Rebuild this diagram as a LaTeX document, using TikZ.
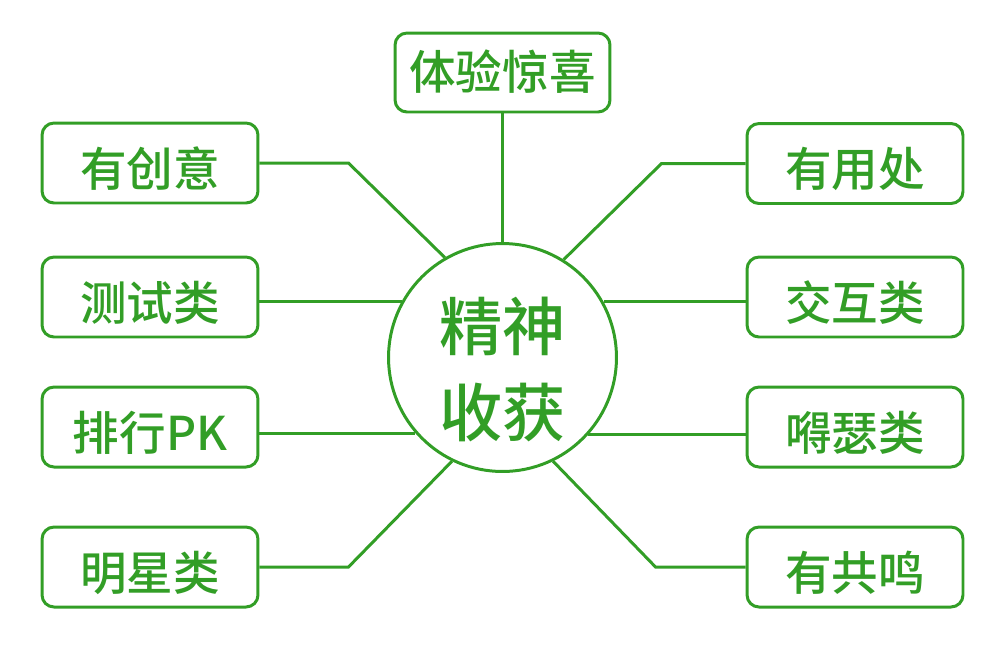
\documentclass[tikz,border=0pt]{standalone}
\usepackage{fontspec}
\newfontfamily\cjk{Noto Sans CJK SC}[BoldFont={* Medium}]
\definecolor{leafgreen}{RGB}{50,158,38}

\begin{document}
\begin{tikzpicture} [x=0.02cm, y=-0.02cm,
 box/.style = {shape=rectangle, rounded corners=0.24cm, draw=leafgreen, line width=1.7pt,
 text=leafgreen, minimum width=4.32cm, minimum height=1.6cm, inner ysep=1pt,
 font=\cjk\bfseries\fontsize{26.5}{30}\selectfont, text height=1.0cm, text depth=0.07cm},
 link/.style = {draw=leafgreen, line width=1.7pt}]
 \useasboundingbox (0,0) rectangle (1000,654);

 \node (hub) [circle, draw=leafgreen, line width=1.7pt, minimum size=4.56cm, inner sep=0pt] at (502.5,357.5) {};
 \node (hubtext) [text=leafgreen, align=center, font=\cjk\bfseries\fontsize{36}{49}\selectfont]
 at ([yshift=-0.24cm]hub.center) {精神\\收获};

 \node (surprise) [box, minimum width=4.3cm, minimum height=1.58cm, text height=0.8cm, text depth=0.11cm] at (502.5,72.5) {体验惊喜};

 \node (creative) [box] at (150,163) {有创意};
 \node (testing) [box] at (150,297) {测试类};
 \node (ranking) [box] at (150,427) {排行PK};
 \node (stars) [box] at (150,567) {明星类};

 \node (useful) [box] at (855,163.5) {有用处};
 \node (interact) [box] at (855,297) {交互类};
 \node (showoff) [box] at (855,427) {嘚瑟类};
 \node (resonate) [box] at (855,567) {有共鸣};

 \path [link] (surprise.south) -- (hub.north);
 \path [link] (creative.east) -- ++(89,0) -- (hub.120);
 \path [link] (testing.east |- hub.151) -- (hub.151);
 \path [link] (ranking.east |- hub.221.5) -- (hub.221.5);
 \path [link] (stars.east) -- ++(89,0) -- (hub.244);
 \path [link] (useful.west) -- ++(-84,0) -- (hub.58);
 \path [link] (interact.west |- hub.29) -- (hub.29);
 \path [link] (showoff.west |- hub.318.5) -- (hub.318.5);
 \path [link] (resonate.west) -- ++(-90,0) -- (hub.296);
% \path [link] (hub.south) -- ++(0,60);
\end{tikzpicture}
\end{document}
